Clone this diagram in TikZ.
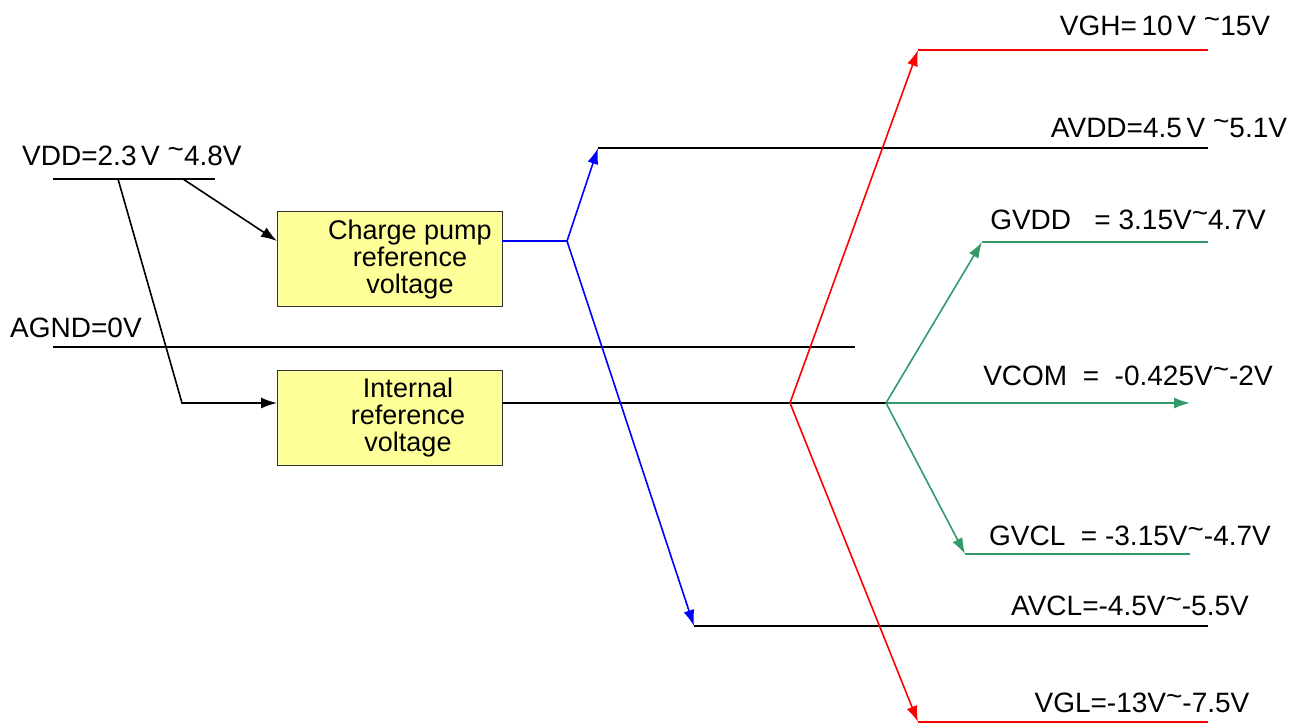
\documentclass[tikz,border=0pt]{standalone}
\usepackage{fontspec}
\setmainfont{Liberation Sans}
\usetikzlibrary{arrows.meta}
\definecolor{gr}{RGB}{50,155,105}
\definecolor{boxy}{RGB}{255,255,153}
\newcommand{\tl}{\raisebox{0.25em}{\textasciitilde}}
\begin{document}
\begin{tikzpicture}[x=1pt,y=-1pt,
 wire/.style={line width=1.6pt},
 arr/.style={-{Latex[length=16pt,width=11pt]}},
 lbl/.style={anchor=base,inner sep=0pt,font=\fontsize{28}{30}\selectfont},
 blk/.style={draw=black!80,fill=boxy,line width=1.2pt,minimum width=225pt,minimum height=95pt,anchor=north west,inner sep=0pt},
 btxt/.style={align=center,inner sep=0pt,font=\fontsize{27}{27}\selectfont},
 ]
\useasboundingbox (0,0) rectangle (1303,724);
% boxes
\node[blk] (cp) at (277,211) {};
\node[btxt] (cpt) at (410,260) {Charge pump\\reference\\voltage};
\node[blk] (ir) at (277,370) {};
\node[btxt] (irt) at (408,418) {Internal\\reference\\voltage};
% coordinates
\coordinate (vL) at (53,179); \coordinate (vR) at (215,179);
\coordinate (v1) at (118,179); \coordinate (v2) at (183,179);
\coordinate (vk) at (182,403);
\coordinate (cpin) at (277,241); \coordinate (irin) at (277,403);
\coordinate (cpout) at (502,241); \coordinate (irout) at (502,403);
\coordinate (gL) at (53,347); \coordinate (gR) at (855,347);
\coordinate (b) at (567,241); \coordinate (bU) at (598,148); \coordinate (bD) at (694,626);
\coordinate (bUe) at (1208,148); \coordinate (bDe) at (1208,626);
\coordinate (r) at (790,403); \coordinate (rU) at (918,50); \coordinate (rD) at (918,722);
\coordinate (rUe) at (1208,50); \coordinate (rDe) at (1208,722);
\coordinate (g) at (886,403); \coordinate (gU) at (982,242); \coordinate (gD) at (965,554);
\coordinate (gUe) at (1208,242); \coordinate (gDe) at (1190,554); \coordinate (gM) at (1190,403);
% black wiring
\draw[wire] (vL) -- (vR);
\draw[wire,arr] (v1) -- (vk) -- (irin);
\draw[wire,arr] (v2) -- (cpin);
\draw[wire] (gL) -- (gR);
\draw[wire] (irout) -- (g);
\draw[wire] (bU) -- (bUe);
\draw[wire] (bD) -- (bDe);
% blue
\draw[wire,blue] (cpout) -- (b);
\draw[wire,blue,arr] (b) -- (bU);
\draw[wire,blue,arr] (b) -- (bD);
% red
\draw[wire,red,arr] (r) -- (rU);
\draw[wire,red,arr] (r) -- (rD);
\draw[wire,red] (rU) -- (rUe);
\draw[wire,red] (rD) -- (rDe);
% green
\draw[wire,gr,arr] (g) -- (gU);
\draw[wire,gr,arr] (g) -- (gM);
\draw[wire,gr,arr] (g) -- (gD);
\draw[wire,gr] (gU) -- (gUe);
\draw[wire,gr] (gD) -- (gDe);
% labels
\node[lbl,anchor=base west] (lvdd) at (22,165) {VDD=2.3\,V \tl4.8V};
\node[lbl,anchor=base west] (lagnd) at (10,337) {AGND=0V};
\node[lbl] (lvgh) at (1165,35) {VGH=\,10\,V \tl15V};
\node[lbl] (lavdd) at (1169,137) {AVDD=4.5\,V \tl5.1V};
\node[lbl] (lgvdd) at (1128,229) {GVDD\ \ \ = 3.15V\tl4.7V};
\node[lbl] (lvcom) at (1128,385) {VCOM\ \ =\ \ -0.425V\tl-2V};
\node[lbl] (lgvcl) at (1130,545) {GVCL\ \ = -3.15V\tl-4.7V};
\node[lbl] (lavcl) at (1130,615) {AVCL=-4.5V\tl-5.5V};
\node[lbl] (lvgl) at (1142,712) {VGL=-13V\tl-7.5V};
\end{tikzpicture}
\end{document}
